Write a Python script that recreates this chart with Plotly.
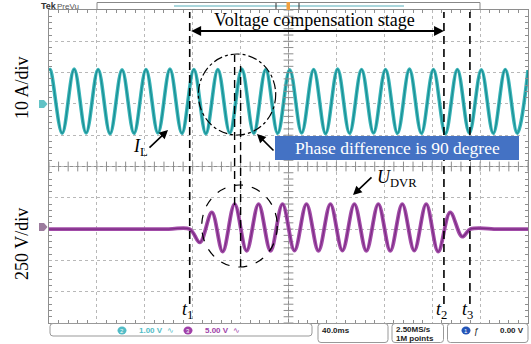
import plotly.graph_objects as go

# ---- oscilloscope capture: channel readings (time in ms) ----
# inductor current I_L, read at its peaks and troughs (A)
current_t_ms = [0, 1, 11, 21, 31, 41, 51, 61, 71, 81, 91, 101, 111, 121, 131, 141, 151,
                161, 171, 181, 191, 201, 211, 221, 231, 241, 251, 261, 271, 281, 291,
                301, 311, 321, 331, 341, 351, 361, 371, 381, 391, 400]
current_a = [10.7, 11.0, -9.4, 11.1, -9.3, 11.0, -9.5, 10.9, -9.4, 11.0, -9.3, 11.1, -9.4,
             11.0, -9.5, 11.0, -9.3, 11.1, -9.4, 11.0, -9.4, 10.9, -9.3, 11.0, -9.5, 11.1,
             -9.4, 11.0, -9.3, 11.0, -9.4, 11.1, -9.4, 11.0, -9.5, 11.0, -9.3, 10.9, -9.4,
             11.0, -9.4, 10.8]

# DVR output voltage U_DVR, read at its extrema and flat stretches (V)
voltage_t_ms = [0, 60, 100, 117.5, 126, 136, 145, 155, 165, 175, 185, 195, 205, 215, 225, 235,
                245, 255, 265, 275, 285, 295, 305, 315, 325, 335, 345, 352, 375, 400]
voltage_v = [0, 0, 0, 0, -106, 133, -180, 200, -173, 200, -173, 200, -172, 200, -173, 200,
             -172, 200, -173, 200, -173, 200, -172, 200, -180, 133, -60, 0, 0, 0]

# event instants
event_t_ms = [117.5, 329.8, 351.5]
event_names = ["1", "2", "3"]
phase_marks_ms = [155, 160]          # voltage peak / current peak inside the circles

# channel settings
amps_per_div = 10
volts_per_div = 250
current_offset_div = 2
voltage_offset_div = -2
time_per_div_ms = 40

# ---- page geometry ----
W, H = 531, 344
L, R, T, B = 49, 3, 10, 21
PW, PH = W - L - R, H - T - B


def px(x):
    return (x - L) / PW


def py(y):
    return (H - B - y) / PH


def rrect(x0, y0, x1, y1, r=3):
    # rounded rectangle path in paper coordinates from pixel corners
    rx, ry = r / PW, r / PH
    a, b, c, d = px(x0), py(y1), px(x1), py(y0)
    return (f"M {a+rx},{b} L {c-rx},{b} Q {c},{b} {c},{b+ry} L {c},{d-ry} Q {c},{d} {c-rx},{d} "
            f"L {a+rx},{d} Q {a},{d} {a},{d-ry} L {a},{b+ry} Q {a},{b} {a+rx},{b} Z")


def note(x, y, text, size, color="black", family="Liberation Serif", anchor="center", **kw):
    # text placed at a pixel position on the page
    return dict(xref="paper", yref="paper", x=px(x), y=py(y), text=text, showarrow=False,
                xanchor=anchor, yanchor="middle", font=dict(family=family, size=size, color=color), **kw)


def arrow(x, y, ax, ay):
    # arrow with its head at pixel (x, y), tail offset by (ax, ay) pixels
    return dict(xref="paper", yref="paper", x=px(x), y=py(y), ax=ax, ay=ay, text="",
                showarrow=True, arrowhead=2, arrowsize=1.1, arrowwidth=1.6, arrowcolor="black")


teal = "#3ab4b8"
teal_dark = "#1a8e93"
purple = "#a24ca8"
purple_dark = "#7c2c84"
grid_col = "#b8b8b8"
frame_col = "#8e8e8e"
serif = "Liberation Serif"
sans = "Liberation Sans"

fig = go.Figure()

# current trace: band plus darker core
fig.add_trace(go.Scatter(x=current_t_ms, y=current_a, mode="lines", yaxis="y",
                         line=dict(color=teal, width=3.6, shape="spline", smoothing=1),
                         hoverinfo="skip"))
fig.add_trace(go.Scatter(x=current_t_ms, y=current_a, mode="lines", yaxis="y",
                         line=dict(color=teal_dark, width=1.2, shape="spline", smoothing=1),
                         hoverinfo="skip"))
# voltage trace
fig.add_trace(go.Scatter(x=voltage_t_ms, y=voltage_v, mode="lines", yaxis="y2",
                         line=dict(color=purple, width=3.8, shape="spline", smoothing=1),
                         hoverinfo="skip"))
fig.add_trace(go.Scatter(x=voltage_t_ms, y=voltage_v, mode="lines", yaxis="y2",
                         line=dict(color=purple_dark, width=1.2, shape="spline", smoothing=1),
                         hoverinfo="skip"))

# graticule ticks along the centre cross (every 1/5 division)
x_span = 10 * time_per_div_ms
cur_lo = (-5 - current_offset_div) * amps_per_div
cur_hi = (5 - current_offset_div) * amps_per_div
cur_mid = (cur_lo + cur_hi) / 2
step_x = time_per_div_ms / 5
step_y = amps_per_div / 5
tx = [i * step_x for i in range(int(x_span / step_x) + 1)]
ty = [cur_lo + i * step_y for i in range(int((cur_hi - cur_lo) / step_y) + 1)]
fig.add_trace(go.Scatter(x=tx, y=[cur_mid] * len(tx), mode="markers", yaxis="y",
                         marker=dict(symbol="line-ns", size=7, line=dict(width=1, color=frame_col)),
                         hoverinfo="skip", cliponaxis=False))
fig.add_trace(go.Scatter(x=[x_span / 2] * len(ty), y=ty, mode="markers", yaxis="y",
                         marker=dict(symbol="line-ew", size=7, line=dict(width=1, color=frame_col)),
                         hoverinfo="skip", cliponaxis=False))

shapes = []
annotations = []

# centre cross lines
shapes.append(dict(type="line", xref="x", yref="paper", x0=x_span / 2, x1=x_span / 2, y0=0, y1=1,
                   line=dict(color=frame_col, width=1), layer="below"))
shapes.append(dict(type="line", xref="paper", yref="paper", x0=0, x1=1, y0=0.5, y1=0.5,
                   line=dict(color=frame_col, width=1), layer="below"))

# event markers t1..t3
for t, name in zip(event_t_ms, event_names):
    shapes.append(dict(type="line", xref="x", yref="paper", x0=t, x1=t, y0=py(304), y1=py(12),
                       line=dict(color="black", width=1.6, dash="8px,5px")))
    annotations.append(dict(xref="x", yref="paper", x=t, y=py(310), xanchor="right", yanchor="middle",
                            text=f"<i>t</i><sub>{name}</sub>", showarrow=False, xshift=5,
                            font=dict(family=serif, size=18, color="black")))

# phase reference lines
shapes.append(dict(type="line", xref="x", yref="paper", x0=phase_marks_ms[0], x1=phase_marks_ms[0],
                   y0=py(205), y1=py(55), line=dict(color="black", width=1.4, dash="8px,5px")))
shapes.append(dict(type="line", xref="x", yref="paper", x0=phase_marks_ms[1], x1=phase_marks_ms[1],
                   y0=py(267), y1=py(66), line=dict(color="black", width=1.4, dash="8px,5px")))

# highlight circles
shapes.append(dict(type="circle", xref="paper", yref="paper", x0=px(198.3), x1=px(275.7),
                   y0=py(135), y1=py(54), line=dict(color="black", width=1.2, dash="dashdot")))
shapes.append(dict(type="circle", xref="paper", yref="paper", x0=px(201.7), x1=px(277.3),
                   y0=py(267), y1=py(185), line=dict(color="black", width=1.2, dash="dash")))

# stage arrow and caption
annotations.append(dict(xref="x", yref="paper", x=event_t_ms[1], y=py(31), ax=event_t_ms[0], ay=0,
                        axref="x", ayref="pixel", text="", showarrow=True, arrowside="end+start",
                        arrowhead=2, arrowsize=1.1, arrowwidth=1.8, arrowcolor="black"))
annotations.append(note(314, 20, "Voltage compensation stage", 18))

# phase caption box
shapes.append(dict(type="rect", xref="paper", yref="paper", x0=px(275), x1=px(519), y0=py(160), y1=py(136),
                   fillcolor="#4472c4", line=dict(width=0)))
annotations.append(note(397, 148, "Phase difference is 90 degree", 17.5, color="white"))
annotations.append(arrow(257, 134, 18, 18))

# trace labels
annotations.append(note(140, 147, "<i>I</i><sub>L</sub>", 18))
annotations.append(arrow(168, 130, -20, 19))
annotations.append(note(397, 178, "<i>U</i><sub>DVR</sub>", 18))
annotations.append(arrow(353, 195, 20, -19))

# vertical scale labels
annotations.append(note(22, 88, f"{amps_per_div} A/div", 18, textangle=-90))
annotations.append(note(22, 244, f"{volts_per_div} V/div", 18, textangle=-90))

# channel ground markers
for ymark, col in [(104, "#62c3c6"), (227, "#9c7c9e")]:
    path = (f"M {px(39)},{py(ymark-4)} L {px(44)},{py(ymark-4)} L {px(47.5)},{py(ymark)} "
            f"L {px(44)},{py(ymark+4)} L {px(39)},{py(ymark+4)} Z")
    shapes.append(dict(type="path", xref="paper", yref="paper", path=path, fillcolor=col, line=dict(width=0)))

# record-view strip at the top
shapes.append(dict(type="rect", xref="paper", yref="paper", x0=px(97), x1=px(480), y0=py(9.5), y1=py(2.5),
                   fillcolor="white", line=dict(color="#888", width=1)))
shapes.append(dict(type="line", xref="paper", yref="paper", x0=px(174), x1=px(404), y0=py(6), y1=py(6),
                   line=dict(color="#a9d6dc", width=2)))
shapes.append(dict(type="rect", xref="paper", yref="paper", x0=px(286.5), x1=px(290), y0=py(10), y1=py(2),
                   fillcolor="#f0a040", line=dict(width=0)))
for xb in (276, 299):
    shapes.append(dict(type="line", xref="paper", yref="paper", x0=px(xb), x1=px(xb), y0=py(9), y1=py(3),
                       line=dict(color="#333", width=1)))
annotations.append(note(39, 6, "<b>Tek</b>", 9, color="#333", family=sans, anchor="left"))
annotations.append(note(55, 6, "PreVu", 8, color="#555", family=sans, anchor="left"))

# status bar at the bottom
for (x0, y0, x1, y1) in [(50, 323.5, 312, 336), (318, 323.5, 388, 342.5),
                         (392, 323.5, 443.5, 342.5), (447.5, 323.5, 528, 342.5)]:
    shapes.append(dict(type="path", xref="paper", yref="paper", path=rrect(x0, y0, x1, y1),
                       fillcolor="white", line=dict(color="#999", width=1)))
for xc, col, label in [(122, "#52bcc6", "2"), (188, "#a040a8", "3"), (466, "#2455b8", "1")]:
    shapes.append(dict(type="circle", xref="paper", yref="paper", x0=px(xc - 4.5), x1=px(xc + 4.5),
                       y0=py(334.5), y1=py(326.5), fillcolor=col, line=dict(width=0)))
    annotations.append(note(xc, 330.5, label, 6, color="white", family=sans))
annotations.append(note(137, 330.5, "<b>1.00 V</b>  ∿", 8, color="#52bcc6", family=sans, anchor="left"))
annotations.append(note(203, 330.5, "<b>5.00 V</b>  ∿", 8, color="#a040a8", family=sans, anchor="left"))
annotations.append(note(320, 330, "<b>40.0ms</b>", 8, color="#222", family=sans, anchor="left"))
annotations.append(note(394, 329, "<b>2.50MS/s</b>", 8, color="#222", family=sans, anchor="left"))
annotations.append(note(394, 338.5, "<b>1M points</b>", 8, color="#222", family=sans, anchor="left"))
annotations.append(note(476, 330.5, "ƒ", 9, color="#222", family=sans))
annotations.append(note(526, 330.5, "<b>0.00 V</b>", 8, color="#222", family=sans, anchor="right"))

axis_common = dict(showticklabels=False, showgrid=True, gridcolor=grid_col, griddash="dot", gridwidth=1,
                   zeroline=False, showline=True, linecolor=frame_col, linewidth=1, mirror="ticks",
                   ticks="inside", ticklen=0, tickcolor=frame_col, fixedrange=True)

fig.update_layout(
    width=W, height=H,
    margin=dict(l=L, r=R, t=T, b=B),
    paper_bgcolor="white", plot_bgcolor="white",
    showlegend=False,
    xaxis=dict(range=[0, x_span], dtick=time_per_div_ms, tick0=0,
               minor=dict(dtick=step_x, ticks="inside", ticklen=3, tickcolor=frame_col), **axis_common),
    yaxis=dict(range=[cur_lo, cur_hi], dtick=amps_per_div, tick0=0,
               minor=dict(dtick=step_y, ticks="inside", ticklen=3, tickcolor=frame_col), **axis_common),
    yaxis2=dict(range=[(-5 - voltage_offset_div) * volts_per_div, (5 - voltage_offset_div) * volts_per_div],
                overlaying="y", visible=False, fixedrange=True),
    shapes=shapes,
    annotations=annotations,
)

fig.write_html("out.html")
